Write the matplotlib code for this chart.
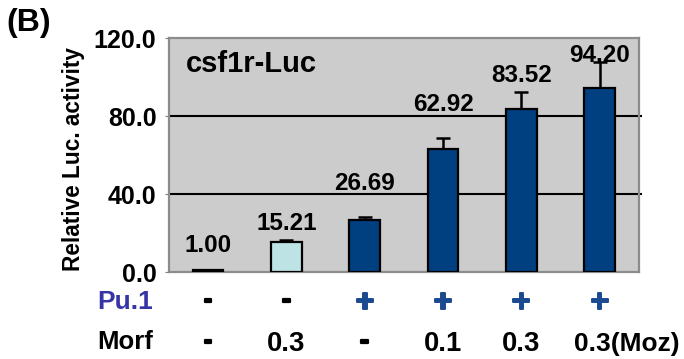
import matplotlib
matplotlib.use("Agg")
import matplotlib.pyplot as plt
import matplotlib.transforms as mtransforms
import matplotlib.patheffects as pe

plt.rcParams['font.family'] = ['Liberation Sans', 'DejaVu Sans']
plt.rcParams['font.weight'] = 'bold'

# Data
conditions = [0, 1, 2, 3, 4, 5]
activity = [1.00, 15.21, 26.69, 62.92, 83.52, 94.20]
errors = [0.0, 1.2, 1.5, 5.8, 8.8, 13.5]
pu1 = ['-', '-', '+', '+', '+', '+']
morf = ['-', '0.3', '-', '0.1', '0.3', '0.3(Moz)']
# vertical lift of each value label above its bar top
label_lift = [7.0, 4.0, 13.0, 17.0, 11.5, 11.0]

dark_blue = '#003F80'
light_cyan = '#BEE3E4'
bar_colors = [light_cyan, light_cyan, dark_blue, dark_blue, dark_blue, dark_blue]
thick = [pe.withStroke(linewidth=1.6, foreground='black')]
thick_blue = [pe.withStroke(linewidth=1.4, foreground='#1A4A8F')]

fig = plt.figure(figsize=(6.84, 3.59), dpi=100)
ax = fig.add_axes([0.247, 0.242, 0.687, 0.652])
ax.set_facecolor('#CCCCCC')

ax.bar(conditions, activity, width=0.39, color=bar_colors,
       edgecolor='black', linewidth=1.6, zorder=3)
ax.errorbar(conditions[1:], activity[1:], yerr=[[0] * 5, errors[1:]],
            fmt='none', ecolor='black', elinewidth=1.8, capsize=5,
            capthick=1.8, zorder=2)

for x, v, lift in zip(conditions, activity, label_lift):
    ax.text(x, v + lift, f"{v:.2f}", ha='center', va='bottom',
            fontsize=17.5, fontweight='bold', zorder=5)

# gridlines at 40 and 80 run slightly past the right frame
for yv in (40, 80):
    ax.plot([-0.5, 5.53], [yv, yv], color='black', lw=1.5, zorder=1,
            clip_on=False)

ax.set_xlim(-0.5, 5.5)
ax.set_ylim(0, 120)
ax.set_yticks([0, 40, 80, 120])
ax.set_yticklabels(['0.0', '40.0', '80.0', '120.0'], fontsize=18,
                   fontweight='bold')
ax.set_xticks([])
ax.tick_params(axis='y', length=3, color='#808080', pad=6)
for s in ax.spines.values():
    s.set_color('#8C8C8C')
    s.set_linewidth(1.6)

ax.text(0.035, 0.855, 'csf1r-Luc', transform=ax.transAxes, fontsize=21,
        fontweight='bold')

fig.text(0.107, 0.557, 'Relative Luc. activity', rotation=90, ha='center',
         va='center', fontsize=16.3, fontweight='bold')
fig.text(0.010, 0.935, '(B)', fontsize=23, fontweight='bold', va='center')

# treatment rows beneath the axis
trans = mtransforms.blended_transform_factory(ax.transData, fig.transFigure)
fig.text(0.142, 0.159, 'Pu.1', color='#3535A5', fontsize=19,
         fontweight='bold', va='center')
fig.text(0.142, 0.047, 'Morf', color='black', fontsize=18.5,
         fontweight='bold', va='center')
for x, p, m in zip(conditions, pu1, morf):
    if p == '+':
        ax.text(x, 0.155, p, transform=trans, ha='center', va='center',
                color='#1A4A8F', fontsize=23, fontweight='bold',
                path_effects=thick_blue)
    else:
        ax.text(x, 0.163, p, transform=trans, ha='center', va='center',
                color='black', fontsize=19, fontweight='bold',
                path_effects=thick)
    if m == '0.3(Moz)':
        ax.text(x - 0.33, 0.042, m, transform=trans, ha='left', va='center',
                fontsize=19, fontweight='bold')
    elif m == '-':
        ax.text(x, 0.05, m, transform=trans, ha='center', va='center',
                fontsize=19, fontweight='bold', path_effects=thick)
    else:
        ax.text(x, 0.042, m, transform=trans, ha='center', va='center',
                fontsize=19.8, fontweight='bold')

fig.savefig('out.png', dpi=100)
